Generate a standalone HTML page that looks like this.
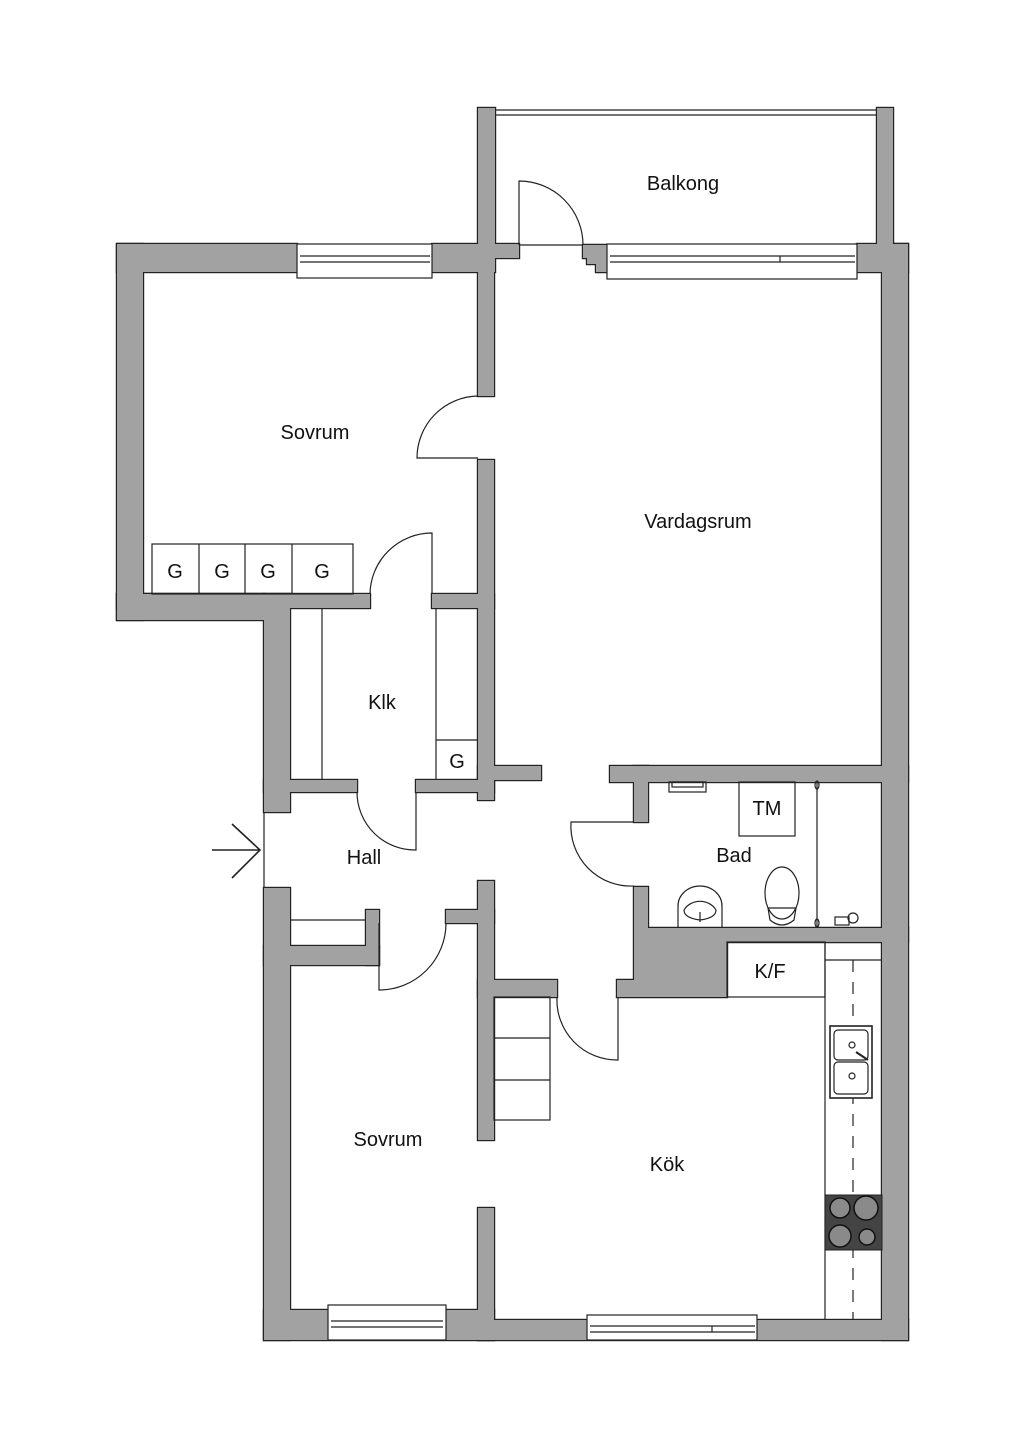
<!DOCTYPE html>
<html><head><meta charset="utf-8"><style>
html,body{margin:0;padding:0;background:#fff;}
svg{display:block;}
text{font-family:"Liberation Sans",sans-serif;font-size:20px;fill:#111;text-anchor:middle;}
</style></head><body>
<svg width="1024" height="1448" viewBox="0 0 1024 1448" xmlns="http://www.w3.org/2000/svg">
<defs>
<g id="walls">
<rect x="478" y="108" width="17" height="150"/>
<rect x="877" y="108" width="16" height="137"/>
<rect x="117" y="244" width="180" height="28"/>
<rect x="432" y="244" width="63" height="28"/>
<rect x="478" y="244" width="41" height="14"/>
<path d="M583 245 H607 V272 H596 V264 H587 V258 H583 Z"/>
<rect x="857" y="244" width="51" height="28"/>
<rect x="117" y="244" width="26" height="376"/>
<rect x="117" y="594" width="253" height="14"/>
<rect x="117" y="594" width="147" height="26"/>
<rect x="432" y="594" width="62" height="14"/>
<rect x="478" y="258" width="16" height="138"/>
<rect x="478" y="460" width="16" height="340"/>
<rect x="478" y="766" width="63" height="14"/>
<rect x="882" y="244" width="26" height="1096"/>
<rect x="264" y="594" width="26" height="218"/>
<rect x="264" y="888" width="26" height="452"/>
<rect x="264" y="780" width="93" height="12"/>
<rect x="416" y="780" width="78" height="12"/>
<rect x="610" y="766" width="298" height="16"/>
<rect x="634" y="766" width="14" height="56"/>
<path d="M634 887 H648 V928 H908 V942 H727 V997 H617 V980 H634 Z"/>
<rect x="264" y="946" width="115" height="19"/>
<rect x="366" y="910" width="13" height="55"/>
<rect x="446" y="910" width="48" height="13"/>
<rect x="478" y="881" width="16" height="259"/>
<rect x="478" y="980" width="79" height="17"/>
<rect x="478" y="1208" width="16" height="132"/>
<rect x="264" y="1310" width="230" height="30"/>
<rect x="478" y="1320" width="430" height="20"/>
</g>
</defs>
<use href="#walls" fill="#222" stroke="#222" stroke-width="2.4"/>
<use href="#walls" fill="#a2a2a2"/>
<g fill="none" stroke="#222" stroke-width="1.2">
<line x1="495" y1="110" x2="877" y2="110"/><line x1="495" y1="115" x2="877" y2="115"/>
<line x1="519" y1="245" x2="583" y2="245"/>
<rect x="297" y="244" width="135" height="34" fill="#fff"/>
<line x1="300" y1="256" x2="430" y2="256"/><line x1="300" y1="262" x2="430" y2="262"/>
<rect x="607" y="244" width="250" height="35" fill="#fff"/>
<line x1="610" y1="256" x2="855" y2="256"/><line x1="610" y1="262" x2="855" y2="262"/><line x1="780" y1="256" x2="780" y2="262"/>
<rect x="328" y="1305" width="118" height="35" fill="#fff"/>
<line x1="331" y1="1321" x2="443" y2="1321"/><line x1="331" y1="1327" x2="443" y2="1327"/>
<rect x="587" y="1315" width="170" height="25" fill="#fff"/>
<line x1="590" y1="1326" x2="755" y2="1326"/><line x1="590" y1="1332" x2="755" y2="1332"/><line x1="712" y1="1326" x2="712" y2="1332"/>
<path d="M519 245 V181 A64 64 0 0 1 583 245"/>
<path d="M478 396 A62 62 0 0 0 417 458 H478"/>
<path d="M432 594 V533 A62 62 0 0 0 370 594"/>
<path d="M416 792 V850 A58 58 0 0 1 357 792"/>
<path d="M634 822 H571 A60 60 0 0 0 634 886"/>
<path d="M379 923 V990 A67 67 0 0 0 446 923"/>
<path d="M557 997 A60 60 0 0 0 618 1060 V997"/>
<line x1="264" y1="812" x2="264" y2="888"/>
<line x1="212" y1="850" x2="260" y2="850" stroke-width="1.6"/>
<path d="M232 824 L260 850 L232 878" stroke-width="1.6"/>
<rect x="152" y="544" width="201" height="50"/>
<line x1="199" y1="544" x2="199" y2="594"/><line x1="245" y1="544" x2="245" y2="594"/><line x1="292" y1="544" x2="292" y2="594"/>
<line x1="322" y1="608" x2="322" y2="780"/><line x1="436" y1="608" x2="436" y2="780"/>
<line x1="436" y1="740" x2="478" y2="740"/>
<line x1="290" y1="920" x2="366" y2="920"/>
<rect x="494" y="997" width="56" height="123"/>
<line x1="494" y1="1038" x2="550" y2="1038"/><line x1="494" y1="1080" x2="550" y2="1080"/>
<rect x="669" y="782" width="37" height="10"/><rect x="672" y="782" width="31" height="5"/>
<rect x="739" y="782" width="56" height="54"/>
<line x1="817" y1="782" x2="817" y2="928"/>
<ellipse cx="817" cy="785" rx="2" ry="4"/><ellipse cx="817" cy="923" rx="2" ry="4"/>
<path d="M678 928 V906 A22 20 0 0 1 722 906 V928"/>
<path d="M684 910 A18 16 0 0 1 716 910 Q716 918 700 920 Q684 918 684 910Z"/>
<line x1="700" y1="912" x2="700" y2="922"/>
<ellipse cx="782" cy="893" rx="17" ry="26"/>
<path d="M768 908 H796 L794 920 Q782 930 770 920 Z"/>
<rect x="835" y="917" width="14" height="8"/><circle cx="853" cy="918" r="5"/>
<rect x="727" y="942" width="98" height="55"/>
<line x1="825" y1="942" x2="825" y2="1320"/>
<line x1="825" y1="960" x2="882" y2="960"/>
<line x1="853" y1="960" x2="853" y2="1320" stroke-dasharray="12 10"/>
<rect x="830" y="1026" width="42" height="72" fill="#fff" stroke-width="1.6"/>
<rect x="834" y="1030" width="34" height="30" rx="4"/><rect x="834" y="1062" width="34" height="32" rx="4"/>
<circle cx="852" cy="1045" r="3"/><circle cx="852" cy="1076" r="3"/>
<line x1="856" y1="1052" x2="868" y2="1060" stroke-width="2"/>
</g>
<rect x="825" y="1195" width="57" height="55" fill="#444" stroke="#222"/>
<g fill="#8a8a8a" stroke="#111" stroke-width="1.5">
<circle cx="840" cy="1208" r="10"/><circle cx="866" cy="1208" r="12"/>
<circle cx="840" cy="1236" r="11"/><circle cx="867" cy="1237" r="8"/>
</g>
<text x="683" y="190">Balkong</text>
<text x="315" y="439">Sovrum</text>
<text x="698" y="528">Vardagsrum</text>
<text x="175" y="578">G</text><text x="222" y="578">G</text><text x="268" y="578">G</text><text x="322" y="578">G</text>
<text x="382" y="709">Klk</text>
<text x="457" y="768">G</text>
<text x="767" y="815">TM</text>
<text x="364" y="864">Hall</text>
<text x="734" y="862">Bad</text>
<text x="770" y="978">K/F</text>
<text x="388" y="1146">Sovrum</text>
<text x="667" y="1171">Kök</text>
</svg>
</body></html>
